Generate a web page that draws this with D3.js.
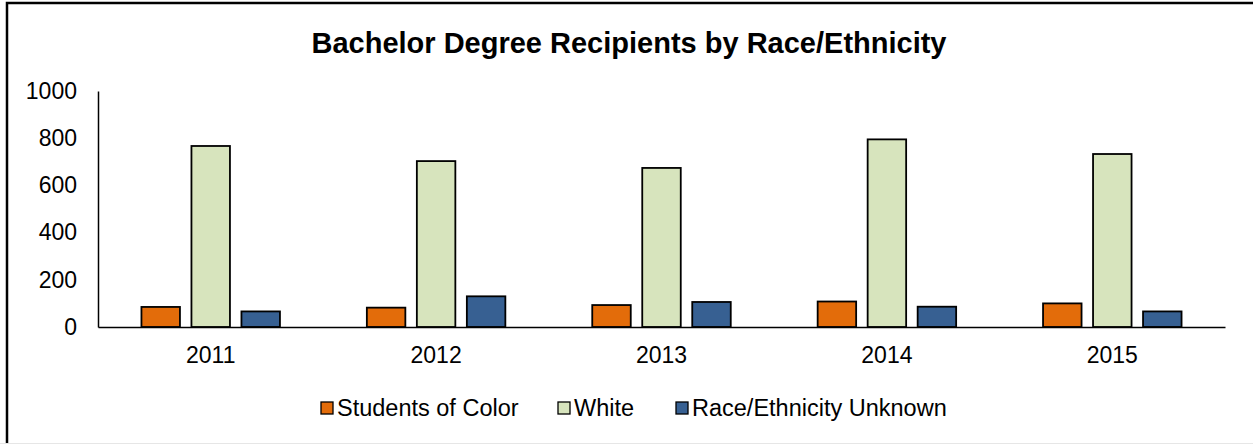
<!DOCTYPE html>
<html>
<head>
<meta charset="utf-8">
<script src="https://cdn.jsdelivr.net/npm/d3@7"></script>
<style>
  html, body { margin: 0; padding: 0; background: #fff; }
  svg { display: block; font-family: "Liberation Sans", Arial, sans-serif; }
</style>
</head>
<body>
<svg id="chart" width="1253" height="444"></svg>
<script>
const years = ["2011", "2012", "2013", "2014", "2015"];
const seriesNames = ["Students of Color", "White", "Race/Ethnicity Unknown"];
const studentsOfColor = [85, 82, 93, 108, 100];
const white = [767, 703, 674, 795, 733];
const unknown = [66, 130, 106, 86, 66];
const yTicks = [0, 200, 400, 600, 800, 1000];
const colors = ["#E36C0A", "#D7E4BD", "#376092"];
const title = "Bachelor Degree Recipients by Race/Ethnicity";

const svg = d3.select("#chart");
const W = 1253, H = 444;

// outer border (top and left visible; right and bottom cropped)
svg.append("rect").attr("x", 7).attr("y", 3).attr("width", 1260).attr("height", 460)
  .attr("fill", "none").attr("stroke", "#000").attr("stroke-width", 2.5);
svg.append("line").attr("x1", 0).attr("x2", W).attr("y1", 443.5).attr("y2", 443.5)
  .attr("stroke", "#e6e6e6").attr("stroke-width", 1);

const margin = { left: 98, right: 1225, top: 91, bottom: 327 };
const x = d3.scaleBand().domain(years).range([margin.left, margin.right]).paddingInner(0).paddingOuter(0);
const y = d3.scaleLinear().domain([0, 1000]).range([margin.bottom, margin.top]);
const groupW = 140;
const xs = d3.scaleBand().domain(seriesNames).range([0, groupW]).paddingInner(0.2);

const data = seriesNames.map((s, i) => ({
  name: s, color: colors[i], values: [studentsOfColor, white, unknown][i]
}));

// title
svg.append("text").attr("x", 629).attr("y", 53).attr("text-anchor", "middle")
  .attr("font-size", "29px").attr("font-weight", "bold").attr("fill", "#000").text(title);

// y axis
const yAxis = d3.axisLeft(y).tickValues(yTicks).tickSize(0).tickPadding(21).tickFormat(d3.format("d"));
const gy = svg.append("g").attr("transform", `translate(${margin.left},0)`).call(yAxis);
gy.attr("font-size", null).attr("font-family", null);
gy.select(".domain").attr("stroke", "#000").attr("stroke-width", 1.5);
gy.selectAll("text").attr("font-size", "23px").attr("fill", "#000");

// bars
years.forEach((yr, j) => {
  const gx = x(yr) + (x.bandwidth() - groupW) / 2;
  data.forEach(s => {
    const v = s.values[j];
    svg.append("rect")
      .attr("x", gx + xs(s.name) + 0.75)
      .attr("y", y(v))
      .attr("width", xs.bandwidth() - 1.5)
      .attr("height", y(0) - y(v))
      .attr("fill", s.color)
      .attr("stroke", "#000")
      .attr("stroke-width", 1.8);
  });
});

// x axis
const xAxis = d3.axisBottom(x).tickSize(0).tickPadding(19.5);
const gxa = svg.append("g").attr("transform", `translate(0,${margin.bottom})`).call(xAxis);
gxa.attr("font-size", null).attr("font-family", null);
gxa.select(".domain").attr("stroke", "#000").attr("stroke-width", 1.5);
gxa.selectAll("text").attr("font-size", "23px").attr("fill", "#000");

// legend
const legendX = [321, 558, 676];
const legend = svg.append("g");
data.forEach((s, i) => {
  legend.append("rect").attr("x", legendX[i]).attr("y", 402).attr("width", 12).attr("height", 12)
    .attr("fill", s.color).attr("stroke", "#000").attr("stroke-width", 1.3);
  legend.append("text").attr("x", legendX[i] + 16).attr("y", 416)
    .attr("font-size", "23.5px").attr("fill", "#000").text(s.name);
});
</script>
</body>
</html>
